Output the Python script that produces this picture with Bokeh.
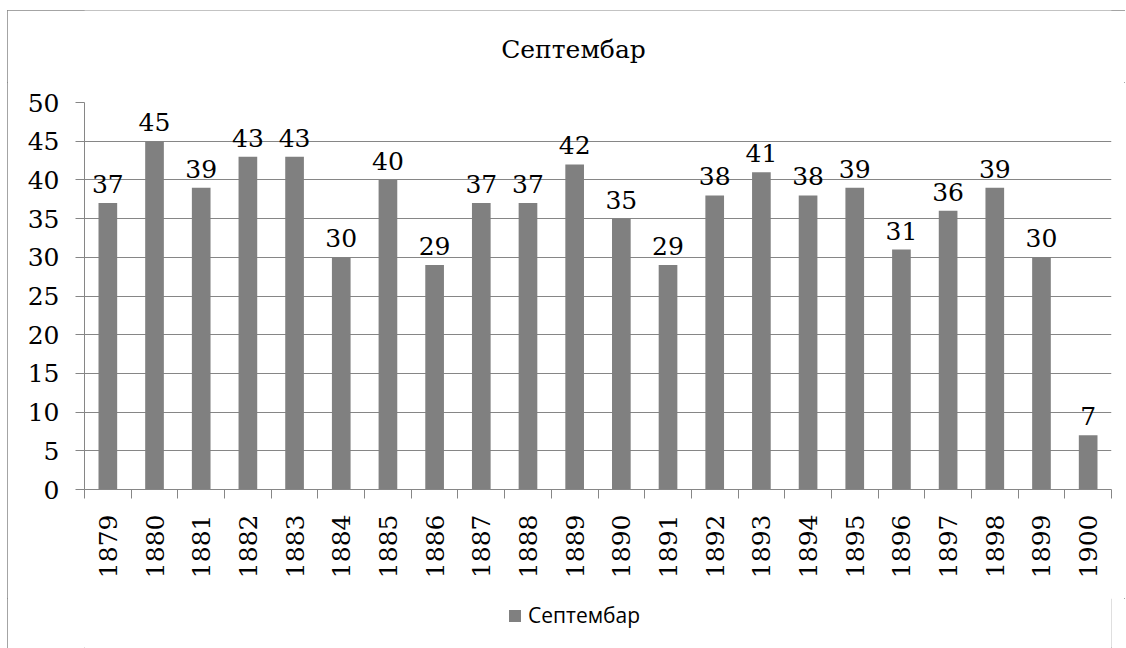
from bokeh.plotting import figure
from bokeh.layouts import column
from bokeh.models import Range1d, FixedTicker, Legend, LegendItem
from bokeh.core.properties import value
from bokeh.embed import file_html
from bokeh.resources import INLINE
import math

years = [1879, 1880, 1881, 1882, 1883, 1884, 1885, 1886, 1887, 1888, 1889,
         1890, 1891, 1892, 1893, 1894, 1895, 1896, 1897, 1898, 1899, 1900]
counts = [37, 45, 39, 43, 43, 30, 40, 29, 37, 37, 42,
          35, 29, 38, 41, 38, 39, 31, 36, 39, 30, 7]
y_ticks = [0, 5, 10, 15, 20, 25, 30, 35, 40, 45, 50]
series_name = "Септембар"
title_text = "Септембар"

GRAY = "#868686"
BAR = "#808080"
SERIF = "DejaVu Serif"
FS = "25px"

# ---- title strip (pixel-scaled ranges) ----
pt = figure(width=1118, height=72, x_range=Range1d(84, 1111), y_range=Range1d(0, 72),
            output_backend="svg", toolbar_location=None,
            x_axis_location=None, y_axis_location=None, min_border=0)
pt.grid.grid_line_color = None
pt.outline_line_color = None
pt.background_fill_color = "white"
pt.border_fill_color = "white"
pt.text(x=[573], y=[33], text=[title_text], text_font=value(SERIF),
        text_font_size=FS, text_color="black", text_align="center",
        text_baseline="alphabetic")

# ---- main chart ----
p = figure(width=1118, height=516,
           x_range=Range1d(years[0] - 0.5, years[-1] + 0.5),
           y_range=Range1d(y_ticks[0], y_ticks[-1]),
           output_backend="svg", toolbar_location=None,
           min_border_left=77, min_border_right=14,
           min_border_top=20, min_border_bottom=109)
p.outline_line_color = None
p.background_fill_color = "white"
p.border_fill_color = "white"

r = p.vbar(x=years, top=counts, width=0.4, fill_color=BAR, line_color=None)

p.text(x=years, y=counts, text=[str(c) for c in counts],
       text_font=value(SERIF), text_font_size=FS, text_color="black",
       text_align="center", text_baseline="alphabetic", y_offset=-19)

p.yaxis.ticker = FixedTicker(ticks=y_ticks)
p.yaxis.axis_line_color = GRAY
p.yaxis.major_tick_line_color = GRAY
p.yaxis.major_tick_in = 0
p.yaxis.major_tick_out = 9
p.yaxis.minor_tick_line_color = None
p.yaxis.major_label_text_font = SERIF
p.yaxis.major_label_text_font_size = FS
p.yaxis.major_label_text_color = "black"
p.yaxis.major_label_standoff = 16

bounds = [y - 0.5 for y in years] + [years[-1] + 0.5]
p.xaxis.ticker = FixedTicker(ticks=years, minor_ticks=bounds)
p.xaxis.axis_line_color = GRAY
p.xaxis.major_tick_line_color = None
p.xaxis.major_tick_in = 0
p.xaxis.major_tick_out = 0
p.xaxis.minor_tick_line_color = GRAY
p.xaxis.minor_tick_in = 0
p.xaxis.minor_tick_out = 9
p.xaxis.major_label_orientation = math.pi / 2
p.xaxis.major_label_text_font = SERIF
p.xaxis.major_label_text_font_size = FS
p.xaxis.major_label_text_color = "black"
p.xaxis.major_label_standoff = 16

p.xgrid.grid_line_color = None
p.ygrid.ticker = FixedTicker(ticks=y_ticks)
p.ygrid.grid_line_color = GRAY
p.ygrid.grid_line_width = 1

# ---- legend strip (its bar sits outside the visible range) ----
pl = figure(width=1118, height=50, x_range=Range1d(0, 1), y_range=Range1d(0, 1),
            output_backend="svg", toolbar_location=None,
            x_axis_location=None, y_axis_location=None, min_border=0)
pl.grid.grid_line_color = None
pl.outline_line_color = None
pl.background_fill_color = "white"
pl.border_fill_color = "white"
r2 = pl.vbar(x=years[:1], top=counts[:1], width=0.4, fill_color=BAR, line_color=None)

legend = Legend(items=[LegendItem(label=series_name, renderers=[r2])],
                orientation="horizontal", location=(423, 19),
                border_line_color=None, background_fill_alpha=0,
                glyph_width=15, glyph_height=15, label_standoff=6,
                label_text_font="Open Sans", label_text_font_size="21px",
                label_text_color="black", margin=0, padding=0)
pl.add_layout(legend)

layout = column(pt, p, pl, spacing=0)
layout.styles = {"outline": "1px solid " + GRAY, "outline-offset": "-1px",
                 "margin-left": "7px", "margin-top": "10px"}

open("out.html", "w").write(file_html(layout, INLINE))
